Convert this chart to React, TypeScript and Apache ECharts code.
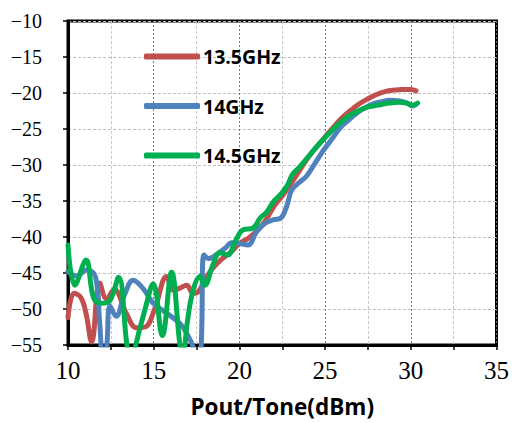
import React, { useEffect, useRef } from "react";
import * as echarts from "echarts";

const seriesNames = ["13.5GHz", "14GHz", "14.5GHz"];
const colors = ["#C0504D", "#4F81BD", "#00B050"];

const red: [number, number][] = [
  [10.0, -51.2], [10.35, -47.8], [10.75, -48.4], [11.05, -50.6], [11.38, -54.6], [11.85, -46.4],
  [12.25, -48.6], [12.7, -47.3], [13.4, -50.6], [14.0, -52.6], [14.5, -52.5], [15.07, -49.9],
  [15.75, -45.5], [16.14, -47.4], [16.53, -47.1], [16.92, -46.7], [17.3, -47.8], [17.6, -47.6],
  [18.1, -45.5], [18.5, -44.2], [19.0, -43.0], [19.5, -42.1], [20.0, -40.9], [20.5, -40.2],
  [21.0, -39.2], [21.5, -37.8], [22.0, -35.8], [22.5, -34.3], [23.0, -32.6], [23.5, -30.8],
  [24.0, -29.0], [24.5, -27.5], [25.0, -26.1], [25.5, -24.7], [26.0, -23.4], [26.5, -22.4],
  [27.0, -21.5], [27.5, -20.8], [28.0, -20.2], [28.5, -19.8], [29.0, -19.6], [29.5, -19.5],
  [30.0, -19.5], [30.3, -19.7],
];

const blue: [number, number][] = [
  [10.0, -44.8], [10.5, -45.4], [11.1, -44.6], [11.6, -45.5], [11.85, -52], [12.05, -57.5],
  [12.25, -55.5], [12.45, -49.6], [12.8, -51.0], [13.3, -48.0], [13.8, -46.0], [14.4, -47.2],
  [14.97, -49.2], [15.77, -50.6], [16.53, -52.0], [16.93, -53.4], [17.3, -55.3], [17.5, -58],
  [17.75, -56], [17.93, -42.5], [18.2, -43.0], [18.74, -42.3], [19.15, -41.6], [19.56, -40.8],
  [20.0, -40.9], [20.5, -41.1], [21.0, -39.3], [21.5, -38.1], [22.0, -37.6], [22.4, -37.4],
  [22.75, -35.8], [23.05, -33.5], [23.5, -32.4], [23.9, -31.6], [24.4, -29.8], [24.86, -28.1],
  [25.4, -26.4], [25.85, -24.9], [26.3, -23.9], [26.84, -22.8], [27.3, -22.1], [27.8, -21.5],
  [28.3, -21.2], [28.76, -21.0], [29.35, -21.1], [29.8, -21.4], [30.1, -21.8], [30.3, -21.6],
];

const green: [number, number][] = [
  [10.0, -41.1], [10.4, -46.7], [11.05, -43.2], [11.5, -48.5], [11.96, -49.2], [12.45, -48.8],
  [12.95, -45.6], [13.42, -54.7], [13.65, -58.5], [13.9, -55.5], [14.5, -50.0], [14.97, -46.5],
  [15.5, -53.7], [16.04, -44.9], [16.53, -55.0], [16.7, -57.0], [16.95, -52.0], [17.3, -47.4],
  [17.7, -45.5], [17.98, -46.7], [18.45, -43.9], [18.86, -42.2], [19.3, -42.5], [19.8, -40.4],
  [20.2, -39.0], [20.8, -38.75], [21.2, -37.4], [21.6, -36.5], [21.95, -35.2], [22.47, -33.9],
  [22.8, -32.8], [23.1, -31.3], [23.5, -30.3], [24.0, -28.9], [24.5, -27.5], [25.0, -26.2],
  [25.4, -25.2], [25.85, -24.2], [26.3, -23.3], [26.84, -22.6], [27.3, -22.1], [27.8, -21.8],
  [28.3, -21.6], [28.76, -21.4], [29.3, -21.3], [29.75, -21.4], [30.1, -21.7], [30.4, -21.4],
];

const seriesData = [red, blue, green];

const xMin = 10;
const xMax = 35;
const xStep = 5;
const yMin = -55;
const yMax = -10;
const yStep = 5;
const xTitle = "Pout/Tone(dBm)";

const fmtNeg = (v: number) => (v < 0 ? "\u2212" + Math.abs(v) : String(v));

export default function App() {
  const ref = useRef<HTMLDivElement>(null);
  useEffect(() => {
    if (!ref.current) return;
    const chart = echarts.init(ref.current, undefined, { renderer: "svg" });
    chart.setOption({
      animation: false,
      backgroundColor: "#fff",
      grid: {
        left: 68,
        right: 15,
        top: 21,
        bottom: 78,
        show: true,
        borderColor: "#000",
        borderWidth: 3,
        backgroundColor: "transparent",
      },
      legend: {
        orient: "vertical",
        left: 144,
        top: 46,
        padding: 0,
        icon: "roundRect",
        itemWidth: 56,
        itemHeight: 6,
        itemGap: 28.5,
        data: seriesNames,
        textStyle: {
          fontFamily: "Open Sans",
          fontWeight: "bold",
          fontSize: 19.5,
          lineHeight: 21,
          color: "#000",
          padding: [0, 0, 0, -2],
        },
      },
      xAxis: {
        type: "value",
        min: xMin,
        max: xMax,
        interval: xStep,
        name: xTitle,
        nameLocation: "middle",
        nameGap: 50,
        nameTextStyle: {
          fontFamily: "Open Sans",
          fontWeight: "bold",
          fontSize: 22.5,
          color: "#000",
        },
        axisLine: { show: true, onZero: false, lineStyle: { color: "#000", width: 3 } },
        axisTick: { show: true, length: 5, lineStyle: { color: "#000", width: 1.5 } },
        minorTick: { show: true, splitNumber: 2, length: 5, lineStyle: { color: "#000", width: 1.5 } },
        axisLabel: {
          margin: 13,
          fontFamily: "Liberation Serif",
          fontSize: 25,
          color: "#000",
          showMaxLabel: true,
        },
        splitLine: { show: true, lineStyle: { color: "#777", type: [2, 2], width: 1 } },
        minorSplitLine: { show: true, lineStyle: { color: "#c8c8c8", type: [3, 2], width: 1 } },
      },
      yAxis: {
        type: "value",
        min: yMin,
        max: yMax,
        interval: yStep,
        axisLine: { show: true, onZero: false, lineStyle: { color: "#000", width: 3 } },
        axisTick: { show: true, length: 5, lineStyle: { color: "#000", width: 1.5 } },
        axisLabel: {
          margin: 26,
          fontFamily: "Liberation Serif",
          fontSize: 20,
          color: "#000",
          formatter: fmtNeg,
        },
        splitLine: { show: true, lineStyle: { color: "#c0c0c0", type: [3, 2], width: 1 } },
      },
      series: seriesNames.map((name, i) => ({
        name,
        type: "line",
        data: seriesData[i],
        smooth: 0.4,
        showSymbol: false,
        symbol: "none",
        clip: true,
        color: colors[i],
        lineStyle: { color: colors[i], width: 5, cap: "round", join: "round" },
        z: 2 + i,
      })),
    });
    return () => chart.dispose();
  }, []);
  return (
    <div
      ref={ref}
      style={{ position: "fixed", left: 0, top: 0, width: 512, height: 423 }}
    />
  );
}
